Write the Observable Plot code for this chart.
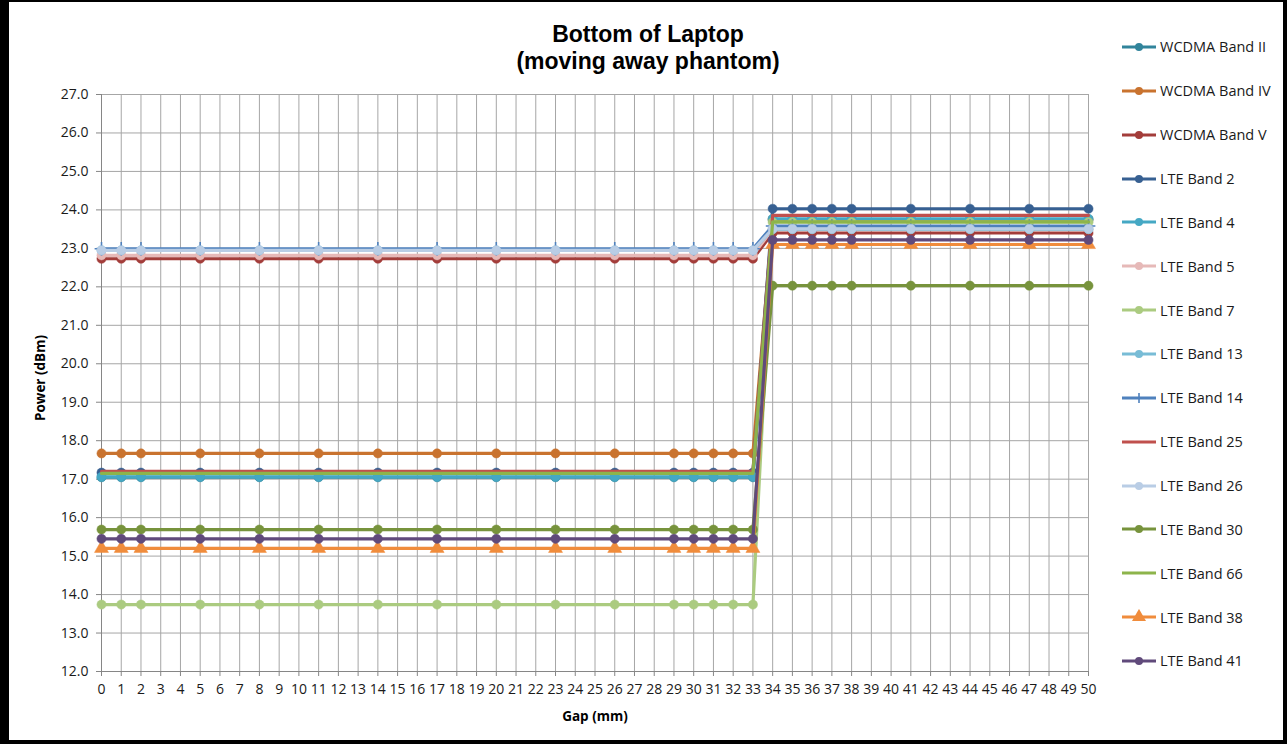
<!DOCTYPE html>
<html><head><meta charset="utf-8">
<script src="https://cdn.jsdelivr.net/npm/d3@7"></script>
<script src="https://cdn.jsdelivr.net/npm/@observablehq/plot@0.6"></script>
<style>
html,body{margin:0;padding:0;background:#fff;}
#wrap{position:relative;width:1287px;height:744px;overflow:hidden;background:#fff;font-family:"Open Sans",sans-serif;}
#chart{position:absolute;left:0;top:0;}
#title{position:absolute;left:398px;width:500px;top:21px;text-align:center;font-family:"Liberation Sans",Arial,sans-serif;font-weight:bold;font-size:23px;line-height:27px;color:#000;}
#ylab{position:absolute;left:40px;top:378px;transform:translate(-50%,-50%) rotate(-90deg);font-weight:bold;font-size:13.5px;white-space:nowrap;color:#000;}
#xlab{position:absolute;left:595px;top:716px;transform:translate(-50%,-50%);font-weight:bold;font-size:13.5px;white-space:nowrap;color:#000;}
#legend{position:absolute;left:1121px;top:25px;}
.li{height:43.86px;display:flex;align-items:center;font-size:14.5px;color:#1a1a1a;white-space:nowrap;}
.li svg{margin-right:3px;flex:none;}
#frame{position:absolute;left:0;top:0;width:1287px;height:744px;box-sizing:border-box;border-left:9px solid #000;border-right:4px solid #000;border-top:2px solid #000;border-bottom:4px solid #000;pointer-events:none;}
</style>
</head><body>
<div id="wrap">
  <div id="chart"></div>
  <div id="title">Bottom of Laptop<br>(moving away phantom)</div>
  <div id="ylab">Power (dBm)</div>
  <div id="xlab">Gap (mm)</div>
  <div id="legend"></div>
  <div id="frame"></div>
</div>
<script>
// ---- data ----
const gaps = [0,1,2,5,8,11,14,17,20,23,26,29,30,31,32,33,34,35,36,37,38,41,44,47,50];
const xTicks = [0,1,2,3,4,5,6,7,8,9,10,11,12,13,14,15,16,17,18,19,20,21,22,23,24,25,26,27,28,29,30,31,32,33,34,35,36,37,38,39,40,41,42,43,44,45,46,47,48,49,50];
const yTicks = [12,13,14,15,16,17,18,19,20,21,22,23,24,25,26,27];

const seriesNames = ["WCDMA Band II","WCDMA Band IV","WCDMA Band V","LTE Band 2","LTE Band 4","LTE Band 5","LTE Band 7","LTE Band 13","LTE Band 14","LTE Band 25","LTE Band 26","LTE Band 30","LTE Band 66","LTE Band 38","LTE Band 41"];
const seriesColors = ["#31849B","#C9732F","#A33D3A","#376092","#45A8C4","#E6B9B8","#ABCB80","#78BCD6","#4F81BD","#C0504D","#B9CDE5","#77933C","#8DB44B","#F08C3C","#604A7B"];
const seriesMarkers = ["circle","circle","circle","circle","circle","circle","circle","circle","plus","none","circle","circle","none","triangle","circle"];

const wcdmaII  = [17.05,17.05,17.05,17.05,17.05,17.05,17.05,17.05,17.05,17.05,17.05,17.05,17.05,17.05,17.05,17.05,23.75,23.75,23.75,23.75,23.75,23.75,23.75,23.75,23.75];
const wcdmaIV  = [17.67,17.67,17.67,17.67,17.67,17.67,17.67,17.67,17.67,17.67,17.67,17.67,17.67,17.67,17.67,17.67,23.75,23.75,23.75,23.75,23.75,23.75,23.75,23.75,23.75];
const wcdmaV   = [22.73,22.73,22.73,22.73,22.73,22.73,22.73,22.73,22.73,22.73,22.73,22.73,22.73,22.73,22.73,22.73,23.40,23.40,23.40,23.40,23.40,23.40,23.40,23.40,23.40];
const lte2     = [17.17,17.17,17.17,17.17,17.17,17.17,17.17,17.17,17.17,17.17,17.17,17.17,17.17,17.17,17.17,17.17,24.03,24.03,24.03,24.03,24.03,24.03,24.03,24.03,24.03];
const lte4     = [17.06,17.06,17.06,17.06,17.06,17.06,17.06,17.06,17.06,17.06,17.06,17.06,17.06,17.06,17.06,17.06,23.77,23.77,23.77,23.77,23.77,23.77,23.77,23.77,23.77];
const lte5     = [22.82,22.82,22.82,22.82,22.82,22.82,22.82,22.82,22.82,22.82,22.82,22.82,22.82,22.82,22.82,22.82,23.50,23.50,23.50,23.50,23.50,23.50,23.50,23.50,23.50];
const lte7     = [13.74,13.74,13.74,13.74,13.74,13.74,13.74,13.74,13.74,13.74,13.74,13.74,13.74,13.74,13.74,13.74,23.68,23.68,23.68,23.68,23.68,23.68,23.68,23.68,23.68];
const lte13    = [22.95,22.95,22.95,22.95,22.95,22.95,22.95,22.95,22.95,22.95,22.95,22.95,22.95,22.95,22.95,22.95,23.50,23.50,23.50,23.50,23.50,23.50,23.50,23.50,23.50];
const lte14    = [22.99,22.99,22.99,22.99,22.99,22.99,22.99,22.99,22.99,22.99,22.99,22.99,22.99,22.99,22.99,22.99,23.58,23.58,23.58,23.58,23.58,23.58,23.58,23.58,23.58];
const lte25    = [17.20,17.20,17.20,17.20,17.20,17.20,17.20,17.20,17.20,17.20,17.20,17.20,17.20,17.20,17.20,17.20,23.86,23.86,23.86,23.86,23.86,23.86,23.86,23.86,23.86];
const lte26    = [22.95,22.95,22.95,22.95,22.95,22.95,22.95,22.95,22.95,22.95,22.95,22.95,22.95,22.95,22.95,22.95,23.51,23.51,23.51,23.51,23.51,23.51,23.51,23.51,23.51];
const lte30    = [15.69,15.69,15.69,15.69,15.69,15.69,15.69,15.69,15.69,15.69,15.69,15.69,15.69,15.69,15.69,15.69,22.03,22.03,22.03,22.03,22.03,22.03,22.03,22.03,22.03];
const lte66    = [17.15,17.15,17.15,17.15,17.15,17.15,17.15,17.15,17.15,17.15,17.15,17.15,17.15,17.15,17.15,17.15,23.69,23.69,23.69,23.69,23.69,23.69,23.69,23.69,23.69];
const lte38    = [15.20,15.20,15.20,15.20,15.20,15.20,15.20,15.20,15.20,15.20,15.20,15.20,15.20,15.20,15.20,15.20,23.10,23.10,23.10,23.10,23.10,23.10,23.10,23.10,23.10];
const lte41    = [15.45,15.45,15.45,15.45,15.45,15.45,15.45,15.45,15.45,15.45,15.45,15.45,15.45,15.45,15.45,15.45,23.22,23.22,23.22,23.22,23.22,23.22,23.22,23.22,23.22];

const seriesValues = [wcdmaII,wcdmaIV,wcdmaV,lte2,lte4,lte5,lte7,lte13,lte14,lte25,lte26,lte30,lte66,lte38,lte41];

// ---- build ----
const rowsBySeries = seriesNames.map((name,i) => gaps.map((g,j) => ({series:name, gap:g, value:seriesValues[i][j]})));

const gridColor = "#A6A6A6";
const marks = [
  Plot.gridX(xTicks, {stroke:gridColor, strokeOpacity:1}),
  Plot.gridY(yTicks, {stroke:gridColor, strokeOpacity:1}),
  Plot.ruleX([0], {stroke:"#868686"}),
  Plot.ruleY([12], {stroke:"#868686"}),
  Plot.axisX(xTicks, {tickSize:5, tickPadding:8, stroke:"#868686", fill:"#1a1a1a", fontSize:14, tickFormat:d=>String(d), label:null}),
  Plot.axisY(yTicks, {tickSize:5, tickPadding:8, stroke:"#868686", fill:"#1a1a1a", fontSize:14, tickFormat:d3.format(".1f"), label:null})
];
rowsBySeries.forEach((rows,i) => {
  const c = seriesColors[i];
  marks.push(Plot.line(rows, {x:"gap", y:"value", stroke:c, strokeWidth:3.2, strokeLinejoin:"round"}));
  const m = seriesMarkers[i];
  if (m === "circle") marks.push(Plot.dot(rows, {x:"gap", y:"value", r:4.6, fill:c, stroke:c, strokeWidth:0.5}));
  else if (m === "triangle") marks.push(Plot.dot(rows, {x:"gap", y:"value", symbol:"triangle", r:5.2, fill:c, stroke:c, strokeWidth:0.5}));
  else if (m === "plus") marks.push(Plot.dot(rows, {x:"gap", y:"value", symbol:"plus", r:4.5, stroke:c, strokeWidth:1.6}));
});

const chart = Plot.plot({
  width:1287, height:744,
  marginLeft:101, marginRight:199, marginTop:94, marginBottom:73,
  style:{background:"transparent", fontFamily:"'Open Sans', sans-serif", overflow:"visible"},
  x:{type:"linear", domain:[0,50], label:null, axis:null},
  y:{type:"linear", domain:[12,27], label:null, axis:null},
  marks
});
document.getElementById("chart").appendChild(chart);

// ---- legend ----
const legend = d3.select("#legend");
seriesNames.forEach((name,i) => {
  const item = legend.append("div").attr("class","li");
  const svg = item.append("svg").attr("width",36).attr("height",16);
  const c = seriesColors[i];
  svg.append("line").attr("x1",1).attr("x2",35).attr("y1",8).attr("y2",8).attr("stroke",c).attr("stroke-width",3.2);
  const m = seriesMarkers[i];
  if (m === "circle") svg.append("circle").attr("cx",18).attr("cy",8).attr("r",4).attr("fill",c);
  else if (m === "triangle") svg.append("path").attr("transform","translate(18,8)").attr("d",d3.symbol(d3.symbolTriangle, Math.PI*5.2*5.2)()).attr("fill",c);
  else if (m === "plus") svg.append("line").attr("x1",18).attr("x2",18).attr("y1",3).attr("y2",13).attr("stroke",c).attr("stroke-width",1.6);
  item.append("span").text(name);
});
</script>
</body></html>
